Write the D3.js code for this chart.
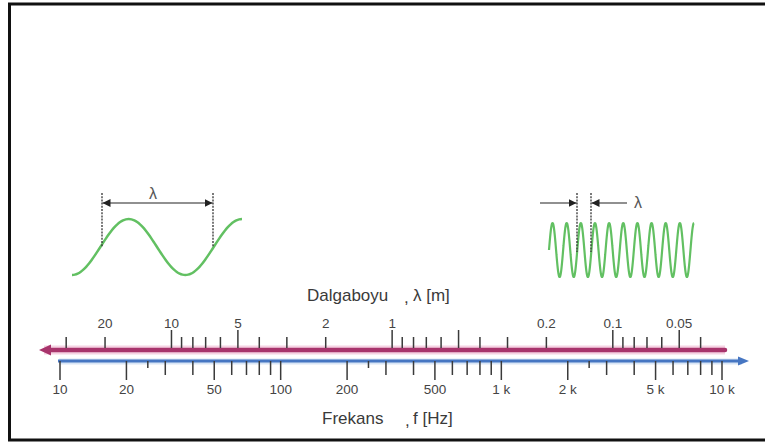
<!DOCTYPE html>
<html lang="tr">
<head>
  <meta charset="UTF-8">
  <title>Dalgaboyu ve Frekans</title>
  <style>
    body { margin: 0; background: #fff; }
    text { font-family: "Liberation Sans", Arial, sans-serif; }
  </style>
</head>
<body>
  <script src="https://d3js.org/d3.v7.min.js"></script>
  <script>
    // frekans ekseni (Hz)
    const freqMajor = [10, 20, 50, 100, 200, 500, 1000, 2000, 5000, 10000];
    const freqMajorLabels = ["10", "20", "50", "100", "200", "500", "1 k", "2 k", "5 k", "10 k"];
    const freqMinor = [30, 40, 60, 70, 80, 90, 300, 400, 600, 700, 800, 900,
      3000, 4000, 6000, 7000, 8000, 9000];
    const freqTiny = [25, 250, 2500];

    // dalgaboyu ekseni (m), ses hizi ~320 m/s
    const soundSpeed = 320;
    const lamLabels = [20, 10, 5, 2, 1, 0.2, 0.1, 0.05];
    const lamLong = [10, 5, 1, 0.5, 0.1, 0.05];
    const lamShort = [30, 20, 9, 8, 7, 6, 4, 3, 2, 0.9, 0.8, 0.7, 0.6, 0.4, 0.3,
      0.2, 0.09, 0.08, 0.07, 0.06, 0.04];

    // orneklenen dalgalar: kac periyot
    const leftCycles = 1.5;
    const rightCycles = 10.25;

    const width = 765, height = 443;

    const svg = d3.select('body')
      .append('svg')
      .attr('width', width)
      .attr('height', height);

    svg.append('rect')
      .attr('x', 9.5).attr('y', 4)
      .attr('width', 770).attr('height', 436)
      .attr('fill', '#fff')
      .attr('stroke', '#111')
      .attr('stroke-width', 3);

    const x = d3.scaleLog().domain([10, 10000]).range([60, 722]);
    const xLam = d3.scaleLog()
      .domain([soundSpeed / 10, soundSpeed / 10000])
      .range([60, 722]);

    const lamY = 350, freqY = 361;

    // hale
    svg.append('line')
      .attr('x1', 44).attr('x2', 725).attr('y1', lamY).attr('y2', lamY)
      .attr('stroke', '#f6d3e3').attr('stroke-width', 9);
    svg.append('line')
      .attr('x1', 59).attr('x2', 742).attr('y1', freqY + 0.5).attr('y2', freqY + 0.5)
      .attr('stroke', '#d9e6f6').attr('stroke-width', 6);

    // dalgaboyu cizgisi
    svg.append('line')
      .attr('x1', 48).attr('x2', 725).attr('y1', lamY).attr('y2', lamY)
      .attr('stroke', '#a8346c').attr('stroke-width', 4.5)
      .attr('stroke-linecap', 'round');
    svg.append('path')
      .attr('d', `M39,${lamY} L51,${lamY - 5.5} L51,${lamY + 5.5} Z`)
      .attr('fill', '#a8346c');

    // frekans cizgisi
    svg.append('line')
      .attr('x1', 58).attr('x2', 740).attr('y1', freqY).attr('y2', freqY)
      .attr('stroke', '#4676c2').attr('stroke-width', 3);
    svg.append('path')
      .attr('d', `M749,${freqY} L738,${freqY - 4.5} L738,${freqY + 4.5} Z`)
      .attr('fill', '#4676c2');

    const tickColor = '#3a3a3a';

    // dalgaboyu tikleri
    const lamTicks = lamLong.map(v => ({ v, len: 18 }))
      .concat(lamShort.map(v => ({ v, len: 11 })));
    svg.append('g').selectAll('line')
      .data(lamTicks)
      .join('line')
      .attr('x1', d => xLam(d.v)).attr('x2', d => xLam(d.v))
      .attr('y1', lamY - 2).attr('y2', d => lamY - 2 - d.len)
      .attr('stroke', tickColor).attr('stroke-width', 1.5);

    svg.append('g').selectAll('text')
      .data(lamLabels)
      .join('text')
      .attr('x', d => xLam(d))
      .attr('y', 328)
      .attr('text-anchor', 'middle')
      .attr('font-size', 13.5)
      .attr('fill', '#444')
      .text(d => d);

    // frekans tikleri
    const freqTicks = freqMajor.map(v => ({ v, len: 19 }))
      .concat(freqMinor.map(v => ({ v, len: 14 })))
      .concat(freqTiny.map(v => ({ v, len: 7 })));
    svg.append('g').selectAll('line')
      .data(freqTicks)
      .join('line')
      .attr('x1', d => x(d.v)).attr('x2', d => x(d.v))
      .attr('y1', freqY).attr('y2', d => freqY + d.len)
      .attr('stroke', tickColor).attr('stroke-width', 1.5);

    svg.append('g').selectAll('text')
      .data(freqMajor)
      .join('text')
      .attr('x', d => x(d))
      .attr('y', 394)
      .attr('text-anchor', 'middle')
      .attr('font-size', 13.5)
      .attr('fill', '#444')
      .text((d, i) => freqMajorLabels[i]);

    // eksen basliklari
    svg.append('text').attr('x', 307).attr('y', 301)
      .attr('font-size', 17).attr('fill', '#3a3a3a').text('Dalgaboyu');
    svg.append('text').attr('x', 404).attr('y', 303)
      .attr('font-size', 17).attr('fill', '#3a3a3a').text(',');
    svg.append('text').attr('x', 413).attr('y', 301)
      .attr('font-size', 17).attr('fill', '#3a3a3a').text('λ [m]');

    svg.append('text').attr('x', 322).attr('y', 424)
      .attr('font-size', 17).attr('fill', '#3a3a3a').text('Frekans');
    svg.append('text').attr('x', 405).attr('y', 426)
      .attr('font-size', 17).attr('fill', '#3a3a3a').text(',');
    svg.append('text').attr('x', 413).attr('y', 424)
      .attr('font-size', 17).attr('fill', '#3a3a3a').text('f [Hz]');

    // dalgalar
    function drawWave(x0, x1, cycles, startPhase, mid, amp, sw) {
      const t = d3.scaleLinear().domain([0, 1]).range([x0, x1]);
      const pts = d3.range(0, 1.0001, 1 / (cycles * 40));
      const line = d3.line()
        .x(p => t(p))
        .y(p => mid - amp * Math.sin(startPhase + p * cycles * 2 * Math.PI))
        .curve(d3.curveCardinal);
      svg.append('path')
        .datum(pts)
        .attr('d', line)
        .attr('fill', 'none')
        .attr('stroke', '#62c062')
        .attr('stroke-width', sw);
    }
    drawWave(72, 242, leftCycles, -Math.PI / 2, 247, 28, 2.5);
    drawWave(549, 694, rightCycles, 0, 250, 27, 2.2);

    const defs = svg.append('defs');
    defs.append('marker')
      .attr('id', 'ah')
      .attr('viewBox', '0 0 10 10')
      .attr('refX', 10).attr('refY', 5)
      .attr('markerWidth', 8).attr('markerHeight', 8)
      .attr('markerUnits', 'userSpaceOnUse')
      .attr('orient', 'auto')
      .append('path').attr('d', 'M0,0 L10,5 L0,10 Z').attr('fill', '#222');

    function dashed(xp, y0, y1) {
      svg.append('line')
        .attr('x1', xp).attr('x2', xp).attr('y1', y0).attr('y2', y1)
        .attr('stroke', '#333').attr('stroke-width', 1.3)
        .attr('stroke-dasharray', '2,1.2');
    }
    function arrow(xa, xb, y) {
      svg.append('line')
        .attr('x1', xa).attr('x2', xb).attr('y1', y).attr('y2', y)
        .attr('stroke', '#222').attr('stroke-width', 1.2)
        .attr('marker-end', 'url(#ah)');
    }

    // sol dalga olcusu
    dashed(102, 193, 247);
    dashed(213, 193, 247);
    arrow(157, 102.5, 203);
    arrow(157, 212.5, 203);
    svg.append('text').attr('x', 153).attr('y', 199)
      .attr('text-anchor', 'middle')
      .attr('font-family', '"Liberation Serif", serif')
      .attr('font-size', 16).attr('fill', '#555').text('λ');

    // sag dalga olcusu
    dashed(577, 193, 252);
    dashed(591, 193, 252);
    arrow(540, 576.5, 203);
    arrow(627, 591.5, 203);
    svg.append('text').attr('x', 638).attr('y', 208)
      .attr('text-anchor', 'middle')
      .attr('font-family', '"Liberation Serif", serif')
      .attr('font-size', 16).attr('fill', '#555').text('λ');
  </script>
</body>
</html>
